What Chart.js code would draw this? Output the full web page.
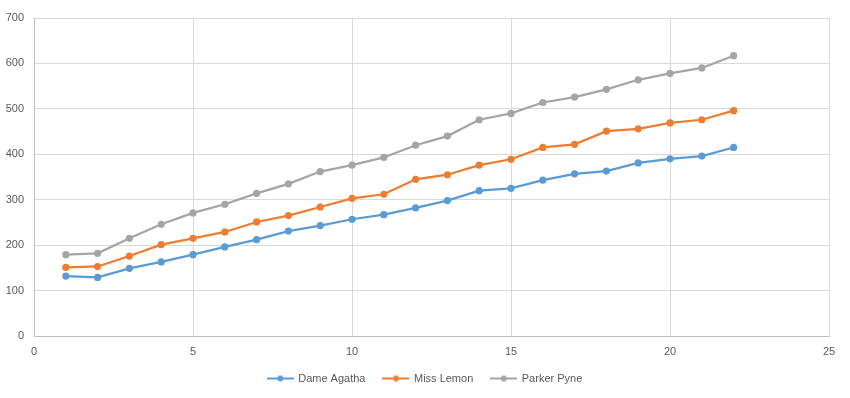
<!DOCTYPE html>
<html>
<head>
<meta charset="utf-8">
<script src="https://cdn.jsdelivr.net/npm/chart.js@4"></script>
<style>
  html, body { margin: 0; padding: 0; background: #fff; }
  #wrap { width: 850px; height: 398px; }
</style>
</head>
<body>
<div id="wrap"><canvas id="chart"></canvas></div>
<script>
// data
const xValues = [1, 2, 3, 4, 5, 6, 7, 8, 9, 10, 11, 12, 13, 14, 15, 16, 17, 18, 19, 20, 21, 22];
const dameAgatha = [132, 129, 149, 163, 179, 196, 212, 231, 243, 257, 267, 282, 298, 320, 325, 343, 357, 363, 381, 390, 396, 415];
const missLemon = [151, 153, 176, 201, 215, 229, 251, 265, 284, 303, 312, 345, 355, 376, 389, 415, 422, 451, 456, 469, 476, 496];
const parkerPyne = [179, 182, 215, 246, 271, 290, 314, 335, 362, 376, 393, 420, 440, 476, 490, 514, 526, 543, 564, 578, 590, 617];
const seriesNames = ['Dame Agatha', 'Miss Lemon', 'Parker Pyne'];
const seriesColors = ['#5b9bd5', '#ed7d31', '#a5a5a5'];

const FONT = 'Liberation Sans, Arial, sans-serif';

// legend marker: short line with a dot in the middle
function legendMarker(color) {
  const c = document.createElement('canvas');
  c.width = 27; c.height = 8;
  const g = c.getContext('2d');
  g.strokeStyle = color; g.lineWidth = 2;
  g.beginPath(); g.moveTo(0, 4); g.lineTo(27, 4); g.stroke();
  g.fillStyle = color;
  g.beginPath(); g.arc(13.5, 4, 3, 0, Math.PI * 2); g.fill();
  return c;
}

const toPoints = arr => arr.map((v, i) => ({ x: xValues[i], y: v }));
const allSeries = [dameAgatha, missLemon, parkerPyne];

const datasets = allSeries.map((vals, i) => ({
  label: seriesNames[i],
  data: toPoints(vals),
  borderColor: seriesColors[i],
  backgroundColor: seriesColors[i],
  borderWidth: 2.25,
  pointRadius: 3.6,
  pointBorderWidth: 0,
  pointHoverRadius: 4,
  tension: 0,
  markerImg: legendMarker(seriesColors[i])
}));

// legend in the reference is centred on the whole canvas, not on the padded area
const centreLegend = {
  id: 'centreLegend',
  afterLayout(chart) {
    const lg = chart.legend;
    if (!lg || !lg.adjustHitBoxes) return;
    lg.left = 0;
    lg.right = chart.width;
    lg.width = chart.width;
    lg.adjustHitBoxes();
  }
};

new Chart(document.getElementById('chart'), {
  type: 'line',
  data: { datasets },
  plugins: [centreLegend],
  options: {
    responsive: true,
    maintainAspectRatio: false,
    animation: false,
    layout: { padding: { top: 18, right: 21, left: 0, bottom: 4 } },
    scales: {
      x: {
        type: 'linear',
        min: 0, max: 25,
        ticks: { stepSize: 5, color: '#595959', font: { family: FONT, size: 11 }, padding: 9 },
        grid: { color: '#d9d9d9', lineWidth: 1, drawTicks: false },
        border: { color: '#bfbfbf' },
        afterFit: s => { s.height = 19; }
      },
      y: {
        min: 0, max: 700,
        ticks: { stepSize: 100, color: '#595959', font: { family: FONT, size: 11 }, padding: 10 },
        grid: { color: '#d9d9d9', lineWidth: 1, drawTicks: false },
        border: { color: '#bfbfbf' },
        afterFit: s => { s.width = 34; }
      }
    },
    plugins: {
      legend: {
        position: 'bottom',
        labels: {
          usePointStyle: true,
          pointStyleWidth: 25,
          color: '#595959',
          font: { family: FONT, size: 11 },
          boxWidth: 25,
          boxHeight: 8,
          padding: 18,
          generateLabels: chart => chart.data.datasets.map((d, i) => ({
            text: d.label,
            pointStyle: d.markerImg,
            fillStyle: d.borderColor,
            strokeStyle: d.borderColor,
            lineWidth: 0,
            fontColor: '#595959',
            hidden: !chart.isDatasetVisible(i),
            datasetIndex: i
          }))
        }
      },
      tooltip: { enabled: false }
    }
  }
});
</script>
</body>
</html>
